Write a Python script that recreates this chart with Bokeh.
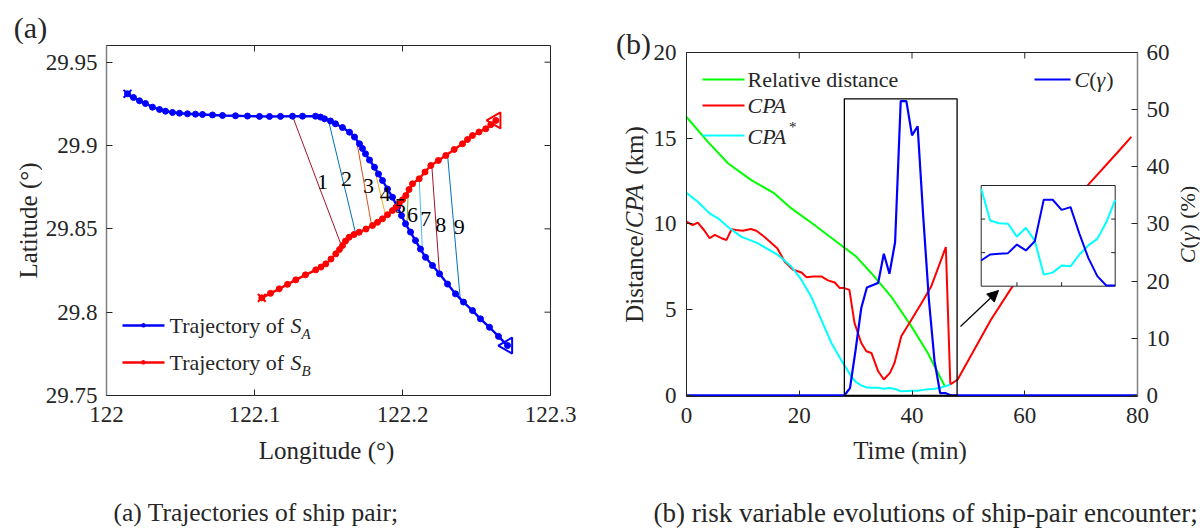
import numpy as np
from bokeh.plotting import figure
from bokeh.layouts import row, column
from bokeh.models import (Range1d, LinearAxis, FixedTicker, CustomJSTickFormatter,
                          Label, Arrow, NormalHead)
from bokeh.core.properties import value
from bokeh.embed import file_html
from bokeh.resources import INLINE

FONT = "Liberation Serif"
INK = "#262626"
BLUE, RED, GREEN, CYAN = "#0000FF", "#FF0000", "#00FF00", "#00FFFF"

# ---------------- panel (a): trajectories ----------------
ship_a_lon = [122.01419, 122.01824, 122.02230, 122.02635, 122.03108, 122.03581, 122.03986, 122.04459,
              122.04932, 122.05473, 122.06014, 122.06486, 122.07162, 122.07838, 122.08716, 122.09527,
              122.10338, 122.11014, 122.11757, 122.12568, 122.13243, 122.14122, 122.14459, 122.14730,
              122.15135, 122.15473, 122.15946, 122.16419, 122.16757, 122.17095, 122.17297, 122.17500,
              122.17770, 122.18108, 122.18378, 122.18649, 122.18986, 122.19324, 122.19662, 122.19932,
              122.20203, 122.20541, 122.20878, 122.21216, 122.21554, 122.22027, 122.22500, 122.23041,
              122.23581, 122.24122, 122.24730, 122.25270, 122.25878, 122.26486, 122.27095]
ship_a_lat = [29.93103, 29.92881, 29.92683, 29.92521, 29.92299, 29.92161, 29.92059, 29.91981,
              29.91939, 29.91903, 29.91879, 29.91861, 29.91831, 29.91801, 29.91783, 29.91765,
              29.91747, 29.91741, 29.91747, 29.91759, 29.91759, 29.91759, 29.91705, 29.91603,
              29.91471, 29.91303, 29.91080, 29.90798, 29.90510, 29.90102, 29.89820, 29.89502,
              29.89130, 29.88697, 29.88289, 29.87899, 29.87389, 29.86897, 29.86297, 29.85798,
              29.85300, 29.84808, 29.84298, 29.83788, 29.83295, 29.82797, 29.82299, 29.81687,
              29.81098, 29.80606, 29.80096, 29.79598, 29.79094, 29.78547, 29.77995]
ship_b_lon = [122.10493, 122.11081, 122.11669, 122.12230, 122.12791, 122.13446, 122.14142, 122.14493,
              122.14818, 122.15169, 122.15493, 122.15743, 122.15946, 122.16149, 122.16399, 122.16723,
              122.17074, 122.17534, 122.17973, 122.18311, 122.18649, 122.18986, 122.19324, 122.19561,
              122.19777, 122.20000, 122.20223, 122.20439, 122.20676, 122.21128, 122.21520, 122.21912,
              122.22419, 122.22926, 122.23493, 122.24054, 122.24392, 122.24730, 122.25169, 122.25628,
              122.25966, 122.26304]
ship_b_lat = [29.80858, 29.81128, 29.81399, 29.81669, 29.81939, 29.82239, 29.82539, 29.82707,
              29.82899, 29.83187, 29.83499, 29.83758, 29.83998, 29.84268, 29.84496, 29.84658,
              29.84796, 29.84988, 29.85198, 29.85390, 29.85600, 29.85846, 29.86098, 29.86297,
              29.86501, 29.86741, 29.86999, 29.87359, 29.87701, 29.88001, 29.88409, 29.88800,
              29.89100, 29.89400, 29.89760, 29.90102, 29.90360, 29.90600, 29.90810, 29.91002,
              29.91249, 29.91501]

# encounter snapshots 1..9 (segment between the two ships)
enc_ids = ["1", "2", "3", "4", "5", "6", "7", "8", "9"]
enc_x0 = [122.1257, 122.1500, 122.1689, 122.1809, 122.1950, 122.2039, 122.2113, 122.2198, 122.2304]
enc_y0 = [29.9176, 29.9150, 29.9033, 29.8867, 29.8660, 29.8730, 29.8800, 29.8880, 29.8948]
enc_x1 = [122.1590, 122.1684, 122.1791, 122.1887, 122.1975, 122.2030, 122.2135, 122.2250, 122.2390]
enc_y1 = [29.8393, 29.8471, 29.8521, 29.8575, 29.8650, 29.8519, 29.8360, 29.8230, 29.8081]
enc_colors = ["#A2142F", "#0072BD", "#D95319", "#EDB120", "#7E2F8E", "#77AC30", "#4DBEEE", "#A2142F", "#0072BD"]
enc_lab_x = [122.1459, 122.1622, 122.1770, 122.1883, 122.1984, 122.2068, 122.2157, 122.2259, 122.2383]
enc_lab_y = [29.8780, 29.8800, 29.8760, 29.8710, 29.8640, 29.8586, 29.8560, 29.8526, 29.8514]

lon_ticks = [122, 122.1, 122.2, 122.3]
lat_ticks = [29.75, 29.8, 29.85, 29.9, 29.95]

# ---------------- panel (b): risk variables ----------------
dist_t = [0, 3.8, 7.4, 11.5, 15.6, 18.6, 22.7, 26.2, 30.1, 32.8, 36.3, 39.9, 42.8, 45.8]
dist_km = [16.24, 14.79, 13.53, 12.56, 11.78, 10.91, 9.94, 9.07, 8.10, 7.13, 5.77, 4.03, 2.48, 0.55]

cpa_t = [0, 1.1, 2.0, 3.1, 4.1, 5.0, 6.2, 7.1, 8.0, 8.8, 10.0, 11.4, 12.4, 13.9, 16.1, 17.4, 18.9,
         20.4, 21.3, 22.5, 23.9, 25.1, 26.3, 27.2, 28.0, 28.9, 29.8, 31.0, 31.9, 32.8, 34.0, 35.0,
         36.1, 36.9, 38.1, 39.9, 41.7, 43.4, 46.0, 46.8, 48.1, 54.0, 58.2, 71.2, 76.8, 78.9]
cpa_km = [10.13, 9.94, 10.08, 9.65, 9.17, 9.36, 9.17, 9.07, 9.69, 9.65, 9.61, 9.71, 9.61, 9.23, 8.59,
          7.81, 7.33, 7.17, 6.90, 6.94, 6.94, 6.71, 6.59, 6.26, 6.26, 6.16, 4.23, 3.06, 2.58, 2.48,
          1.41, 0.93, 1.32, 1.90, 3.45, 4.42, 5.39, 6.35, 8.65, 0.64, 0.93, 4.42, 6.55, 12.27, 14.30, 15.08]

cpas_t = [0, 2.0, 4.1, 5.6, 7.3, 9.7, 12.6, 16.2, 18.6, 20.4, 22.1, 23.9, 25.7, 27.4, 29.2, 30.0,
          31, 32, 33, 34, 35, 36, 37, 38, 39, 40, 41, 42, 43, 44, 45, 46, 46.8]
cpas_km = [11.82, 11.30, 10.62, 10.33, 9.84, 9.26, 8.88, 8.20, 7.52, 6.74, 5.77, 4.42, 3.06, 2.09, 1.12, 0.80,
           0.587, 0.461, 0.450, 0.448, 0.397, 0.432, 0.381, 0.246, 0.254, 0.282, 0.279, 0.326, 0.362,
           0.388, 0.454, 0.543, 0.64]

cg_t = [0, 28, 29, 30, 31, 32, 33, 34, 35, 36, 37, 38, 39, 40, 41, 42, 43, 44, 45, 46, 47, 80]
cg_pct = [0, 0, 1.3, 8.0, 15.3, 18.9, 19.3, 19.7, 24.8, 21.3, 26.8, 51.5, 51.5, 45.5, 47.1, 31.2,
          16.7, 6.0, 0.4, 0.4, 0, 0]

time_ticks = [0, 20, 40, 60, 80]
km_ticks = [0, 5, 10, 15, 20]
pct_ticks = [0, 10, 20, 30, 40, 50, 60]

# zoom window and inset description
ZOOM_T = (28, 48)
ZOOM_KM = (0, 17.3)
INSET_T = (31, 46)
INSET_PCT = (0, 60)
INSET_KM = (0.2, 0.6)
INSET_T_TICKS = [35, 40]
INSET_PCT_TICKS = [20, 40]

# ---------------- helpers ----------------
W_REG = {' ': 250, '(': 333, ')': 333, '/': 278, '*': 500, '%': 833, '°': 400, ';': 278, '-': 333,
         '.': 250, 'A': 722, 'B': 667, 'C': 667, 'D': 722, 'L': 611, 'P': 556, 'R': 667, 'S': 556,
         'T': 611, 'a': 444, 'b': 500, 'c': 444, 'd': 500, 'e': 444, 'f': 333, 'g': 500, 'h': 500,
         'i': 278, 'j': 278, 'k': 500, 'l': 278, 'm': 778, 'n': 500, 'o': 500, 'p': 500, 'r': 333,
         's': 389, 't': 278, 'u': 500, 'v': 500, 'y': 500}
W_IT = dict(W_REG)
W_IT.update({'A': 611, 'B': 611, 'C': 667, 'P': 611, 'S': 500, 'γ': 440})


def text_width(s, size, italic=False):
    tbl = W_IT if italic else W_REG
    return sum(tbl.get(ch, 500) for ch in s) * size / 1000.0


def label(p, x, y, text, size, italic=False, angle=0.0, align="left", color=INK):
    p.add_layout(Label(x=x, y=y, x_units="screen", y_units="screen", text=text, angle=angle,
                       text_font=FONT, text_font_size=f"{size}px",
                       text_font_style="italic" if italic else "normal",
                       text_align=align, text_baseline="middle", text_color=color))


def rich(p, x, y, pieces, angle=0.0, center=False):
    widths = [text_width(t, s, it) for t, s, it, sh in pieces]
    pos = -sum(widths) / 2 if center else 0.0
    for (t, s, it, sh), w in zip(pieces, widths):
        lead = text_width(t[:len(t) - len(t.lstrip())], s, it)
        txt = t.strip()
        if txt:
            if angle == 0:
                label(p, x + pos + lead, y + sh, txt, s, it)
            else:
                label(p, x - sh, y + pos + lead, txt, s, it, angle=angle)
        pos += w


def legend_line(p, x0, x1, y, color, width=2.0):
    p.add_layout(Arrow(x_start=x0, y_start=y, x_end=x1, y_end=y, start_units="screen",
                       end_units="screen", start=None, end=None, line_color=color, line_width=width))


def style_axis(ax, ticks, line_color=INK, line_width=1.0, standoff=10):
    ax.ticker = FixedTicker(ticks=ticks)
    ax.axis_line_color = line_color
    ax.axis_line_width = line_width
    ax.major_tick_line_color = INK
    ax.major_tick_in = 6
    ax.major_tick_out = 0
    ax.minor_tick_line_color = None
    ax.minor_tick_in = 0
    ax.minor_tick_out = 0
    ax.major_label_standoff = standoff
    ax.major_label_text_font = FONT
    ax.major_label_text_color = INK
    ax.major_label_text_font_size = "23px"
    ax.formatter = CustomJSTickFormatter(code="return String(Math.round(tick*1000)/1000);")


def mapped_range(d0, d1, p0, p1, span):
    k = (d1 - d0) / (p1 - p0)
    return Range1d(d0 - p0 * k, d0 + (span - p0) * k)


def strip(w, h):
    s = figure(width=w, height=h, min_border=0, x_range=Range1d(0, 1), y_range=Range1d(0, 1),
               x_axis_location=None, y_axis_location=None, toolbar_location=None,
               output_backend="svg", title=None)
    s.outline_line_color = None
    s.grid.visible = False
    s.background_fill_color = "white"
    s.border_fill_color = "white"
    return s


# ---------------- figure (a) ----------------
FA_W, FA_H = 444, 350
XA, YA = Range1d(122, 122.3), Range1d(29.75, 29.96)
pa = figure(frame_width=FA_W, frame_height=FA_H, x_range=XA, y_range=YA, title=None,
            min_border_left=62, min_border_right=52, min_border_top=1, min_border_bottom=43,
            output_backend="svg", toolbar_location=None)
pa.outline_line_color = INK
pa.grid.visible = False
pa.background_fill_color = "white"
pa.border_fill_color = "white"
style_axis(pa.xaxis[0], lon_ticks, standoff=11)
style_axis(pa.yaxis[0], lat_ticks, line_color="#808080", line_width=1.5, standoff=9)
# mirrored inward ticks on top and right edges of the box
tl_y = 6 * (YA.end - YA.start) / FA_H
tl_x = 6 * (XA.end - XA.start) / FA_W
pa.segment(x0=lon_ticks, y0=[YA.end] * 4, x1=lon_ticks, y1=[YA.end - tl_y] * 4, line_color=INK, line_width=1)
pa.segment(x0=[XA.end] * 5, y0=lat_ticks, x1=[XA.end - tl_x] * 5, y1=lat_ticks, line_color=INK, line_width=1)

pa.segment(x0=enc_x0, y0=enc_y0, x1=enc_x1, y1=enc_y1, line_color=enc_colors, line_width=1)
pa.line(ship_a_lon, ship_a_lat, line_color=BLUE, line_width=2.4)
pa.scatter(ship_a_lon, ship_a_lat, marker="circle", size=6, color=BLUE)
pa.line(ship_b_lon, ship_b_lat, line_color=RED, line_width=2.4)
pa.scatter(ship_b_lon, ship_b_lat, marker="circle", size=6, color=RED)
pa.scatter([ship_a_lon[0]], [ship_a_lat[0]], marker="x", size=11, line_width=2, color=BLUE)
pa.scatter([ship_b_lon[0]], [ship_b_lat[0]], marker="x", size=11, line_width=2, color=RED)
pa.scatter([ship_a_lon[-1]], [ship_a_lat[-1]], marker="triangle", angle=np.pi / 2, size=16,
           fill_color=None, line_color=BLUE, line_width=2)
pa.scatter([ship_b_lon[-1]], [ship_b_lat[-1]], marker="triangle", angle=np.pi / 2, size=16,
           fill_color=None, line_color=RED, line_width=2)
pa.text(x=enc_lab_x, y=enc_lab_y, text=enc_ids, text_align="center", text_baseline="middle",
        text_font=value(FONT), text_font_size="22px", text_color="black")

# legend (a)
for yy, col, sub in [(70, BLUE, "A"), (33, RED, "B")]:
    legend_line(pa, 16, 58, yy, col, 2.4)
    label(pa, 37, yy, "•", 18, align="center", color=col)
    rich(pa, 63, yy, [("Trajectory of ", 22, False, 0), ("S", 22, True, 0), (sub, 15, True, -8)])

# text strips around panel (a)   (page: x 0..600, y 0..530)
top_a = strip(600, 44)                      # page y 0..44
label(top_a, 30, 44 - 27, "(a)", 30, align="center")
left_a = strip(42, 394)                     # page x 0..42, y 44..438
label(left_a, 28, 438 - 220, "Latitude (°)", 25, angle=np.pi / 2, align="center")
bottom_a = strip(600, 92)                   # page y 438..530
label(bottom_a, 326, 530 - 450, "Longitude (°)", 25, align="center")
label(bottom_a, 113, 530 - 512, "(a) Trajectories of ship pair;", 25.5)

# ---------------- figure (b) ----------------
FB_W, FB_H = 451, 344
INSET_PX = (294.7, 428.7, 110.3, 211.0)  # left, right, bottom, top (frame px)
XB, YB = Range1d(0, 80), Range1d(-0.06, 20)
pb = figure(frame_width=FB_W, frame_height=FB_H, x_range=XB, y_range=YB, title=None,
            min_border_left=34, min_border_right=35, min_border_top=52, min_border_bottom=42,
            output_backend="svg", toolbar_location=None)
pb.outline_line_color = INK
pb.grid.visible = False
pb.background_fill_color = "white"
pb.border_fill_color = "white"
pb.extra_y_ranges = {
    "pct": Range1d(-0.18, 60),
    "ins_pct": mapped_range(INSET_PCT[0], INSET_PCT[1], INSET_PX[2], INSET_PX[3], FB_H),
    "ins_km": mapped_range(INSET_KM[0], INSET_KM[1], INSET_PX[2], INSET_PX[3], FB_H),
}
pb.extra_x_ranges = {"ins_t": mapped_range(INSET_T[0], INSET_T[1], INSET_PX[0], INSET_PX[1], FB_W)}

style_axis(pb.xaxis[0], time_ticks, standoff=11)
style_axis(pb.yaxis[0], km_ticks, standoff=10)
by_right = LinearAxis(y_range_name="pct")
style_axis(by_right, pct_ticks, line_color="#808080", line_width=1.5, standoff=9)
pb.add_layout(by_right, "right")
tlb = 6 * (YB.end - YB.start) / FB_H
pb.segment(x0=time_ticks, y0=[YB.end] * 5, x1=time_ticks, y1=[YB.end - tlb] * 5, line_color=INK, line_width=1)

pb.line(dist_t, dist_km, line_color=GREEN, line_width=2)
pb.line(cpa_t, cpa_km, line_color=RED, line_width=2)
pb.line(cpas_t, cpas_km, line_color=CYAN, line_width=2)
pb.line(cg_t, cg_pct, line_color=BLUE, line_width=2.2, y_range_name="pct")

pb.quad(left=[ZOOM_T[0]], right=[ZOOM_T[1]], bottom=[ZOOM_KM[0]], top=[ZOOM_KM[1]],
        fill_color=None, line_color="black", line_width=1.3)

# inset (zoom of the window)
pb.quad(left=[INSET_T[0]], right=[INSET_T[1]], bottom=[INSET_PCT[0]], top=[INSET_PCT[1]],
        x_range_name="ins_t", y_range_name="ins_pct", fill_color="white", line_color=INK, line_width=1)
cpas_t_a, cpas_km_a = np.array(cpas_t), np.array(cpas_km)
m1 = (cpas_t_a >= INSET_T[0]) & (cpas_t_a <= INSET_T[1])
pb.line(cpas_t_a[m1], cpas_km_a[m1], line_color=CYAN, line_width=2, x_range_name="ins_t", y_range_name="ins_km")
cg_t_a, cg_pct_a = np.array(cg_t), np.array(cg_pct)
m2 = (cg_t_a >= INSET_T[0]) & (cg_t_a <= INSET_T[1])
pb.line(cg_t_a[m2], cg_pct_a[m2], line_color=BLUE, line_width=2, x_range_name="ins_t", y_range_name="ins_pct")
tx_len = 4 * (INSET_PCT[1] - INSET_PCT[0]) / (INSET_PX[3] - INSET_PX[2])
ty_len = 4 * (INSET_T[1] - INSET_T[0]) / (INSET_PX[1] - INSET_PX[0])
pb.segment(x0=INSET_T_TICKS, y0=[INSET_PCT[0]] * 2, x1=INSET_T_TICKS, y1=[INSET_PCT[0] + tx_len] * 2,
           x_range_name="ins_t", y_range_name="ins_pct", line_color=INK, line_width=1)
pb.segment(x0=[INSET_T[0]] * 2, y0=INSET_PCT_TICKS, x1=[INSET_T[0] + ty_len] * 2, y1=INSET_PCT_TICKS,
           x_range_name="ins_t", y_range_name="ins_pct", line_color=INK, line_width=1)
pb.segment(x0=[INSET_T[1]] * 2, y0=INSET_PCT_TICKS, x1=[INSET_T[1] - ty_len] * 2, y1=INSET_PCT_TICKS,
           x_range_name="ins_t", y_range_name="ins_pct", line_color=INK, line_width=1)

pb.add_layout(Arrow(x_start=274, y_start=70, x_end=312, y_end=106, start_units="screen",
                    end_units="screen", line_color="black", line_width=1.2,
                    end=NormalHead(size=11, fill_color="black", line_color="black")))

# legend (b)
legend_line(pb, 16, 58, 317, GREEN)
label(pb, 61, 317, "Relative distance", 22)
legend_line(pb, 16, 58, 291, RED)
label(pb, 61, 291, "CPA", 22, italic=True)
legend_line(pb, 16, 58, 261, CYAN)
rich(pb, 61, 260, [("CPA", 22, True, 0), ("*", 15, False, 10)])
legend_line(pb, 348, 384, 317, BLUE)
rich(pb, 388, 317, [("C", 22, True, 0), ("(", 22, False, 0), ("γ", 22, True, 0), (")", 22, False, 0)])

# text strips around panel (b)   (page: x 600..1196)
left_b = strip(48, 438)                     # page x 600..648, y 0..438
label(left_b, 31, 438 - 43, "(b)", 30, align="center")
rich(left_b, 32, 438 - 224, [("Distance/", 25, False, 0), ("CPA", 25, True, 0), (" (km)", 25, False, 0)],
     angle=np.pi / 2, center=True)
right_b = strip(28, 438)                    # page x 1168..1196
rich(right_b, 15, 438 - 224, [("C", 22, True, 0), ("(", 22, False, 0), ("γ", 22, True, 0),
                              (")", 22, False, 0), (" (%)", 22, False, 0)], angle=np.pi / 2, center=True)
bottom_b = strip(596, 92)                   # page y 438..530
label(bottom_b, 307.5, 530 - 450, "Time (min)", 25, align="center")
label(bottom_b, 51, 530 - 512, "(b) risk variable evolutions of ship-pair encounter;", 27)

# strips are wrapped in their own columns so that their frames are not aligned to the plots
col_a = column(top_a, row(column(left_a), pa), bottom_a)
col_b = column(row(column(left_b), pb, column(right_b)), bottom_b)
layout = row(col_a, col_b)
open("out.html", "w").write(file_html(layout, INLINE))
